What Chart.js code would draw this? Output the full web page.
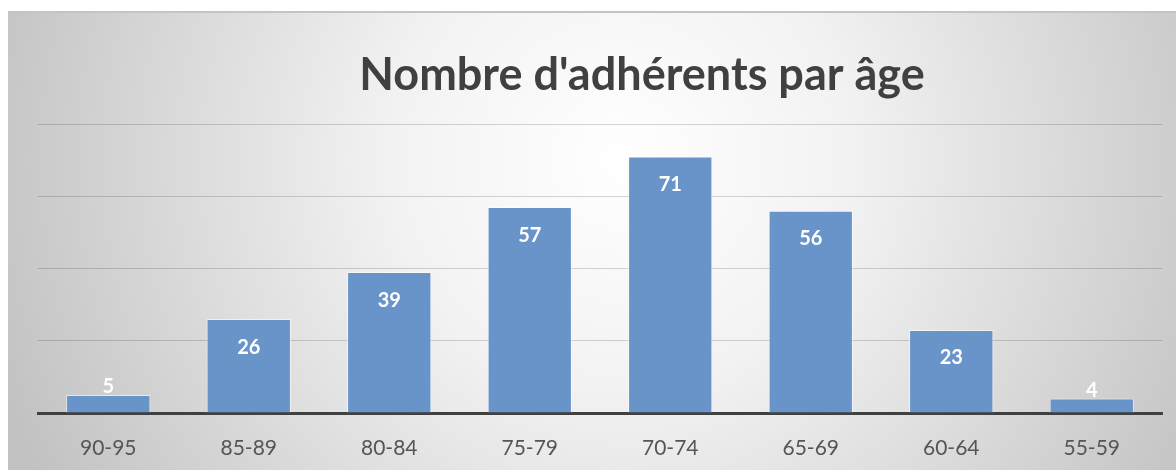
<!DOCTYPE html>
<html>
<head>
<meta charset="utf-8">
<style>
  html, body { margin: 0; padding: 0; background: #fff; }
  #wrap { width: 1176px; height: 470px; }
  canvas { display: block; }
</style>
<script src="https://cdn.jsdelivr.net/npm/chart.js@4/dist/chart.umd.min.js"></script>
</head>
<body>
<div id="wrap"><canvas id="ageChart" width="1176" height="470"></canvas></div>
<script>
const ageGroups = ['90-95', '85-89', '80-84', '75-79', '70-74', '65-69', '60-64', '55-59'];
const members = [5, 26, 39, 57, 71, 56, 23, 4];
const chartTitle = "Nombre d'adhérents par âge";

// grey frame with the light radial glow behind the plot
const frameBackground = {
    id: 'frameBackground',
    beforeDraw(chart) {
        const ctx = chart.ctx;
        const w = chart.width, h = chart.height;
        ctx.save();
        ctx.fillStyle = '#ffffff';
        ctx.fillRect(0, 0, w, h);
        const g = ctx.createRadialGradient(620, 160, 0, 620, 160, 660);
        g.addColorStop(0, '#ffffff');
        g.addColorStop(0.35, '#f2f2f2');
        g.addColorStop(1, '#c2c2c2');
        ctx.fillStyle = g;
        ctx.fillRect(8, 11, w - 8, h - 11);
        ctx.fillStyle = '#c4c4c4';
        ctx.fillRect(8, 11, w - 8, 2);
        ctx.restore();
    }
};

// title sits a bit right of the canvas centre in the original
const shiftTitle = {
    id: 'shiftTitle',
    afterLayout(chart) {
        if (chart.titleBlock) {
            chart.titleBlock.left += 42;
            chart.titleBlock.right += 42;
        }
    }
};

// white value labels at the inside end of each bar
const barLabels = {
    id: 'barLabels',
    afterDatasetsDraw(chart) {
        const ctx = chart.ctx;
        const meta = chart.getDatasetMeta(0);
        ctx.save();
        ctx.font = 'bold 20px Lato';
        ctx.fillStyle = '#ffffff';
        ctx.textAlign = 'center';
        ctx.textBaseline = 'middle';
        meta.data.forEach((bar, i) => {
            const hgt = bar.base - bar.y;
            const y = hgt < 50 ? bar.y - 8 : bar.y + 28;
            ctx.fillText(String(members[i]), bar.x, y);
        });
        ctx.restore();
    }
};

new Chart(document.getElementById('ageChart'), {
    type: 'bar',
    data: {
        labels: ageGroups,
        datasets: [{
            data: members,
            backgroundColor: '#6894c9',
            borderColor: 'rgba(255,255,255,0.55)',
            borderWidth: 1,
            categoryPercentage: 1,
            barPercentage: 0.6
        }]
    },
    options: {
        responsive: false,
        animation: false,
        layout: { padding: { left: 38, right: 14, top: 0, bottom: 0 } },
        plugins: {
            legend: { display: false },
            tooltip: { enabled: false },
            title: {
                display: true,
                text: chartTitle,
                color: '#404040',
                font: { family: 'Lato', size: 45, weight: 'bold' },
                padding: { top: 48, bottom: 22 }
            }
        },
        scales: {
            x: {
                grid: { display: false, drawTicks: false },
                border: { display: true, color: '#404040', width: 3 },
                ticks: { color: '#555555', font: { family: 'Lato', size: 21 }, padding: 23 },
                afterFit(scale) { scale.height = 57; }
            },
            y: {
                min: 0,
                max: 80,
                ticks: { display: false, stepSize: 20 },
                grid: { color: 'rgba(0,0,0,0.16)', lineWidth: 1, drawTicks: false },
                border: { display: false }
            }
        }
    },
    plugins: [frameBackground, shiftTitle, barLabels]
});
</script>
</body>
</html>
